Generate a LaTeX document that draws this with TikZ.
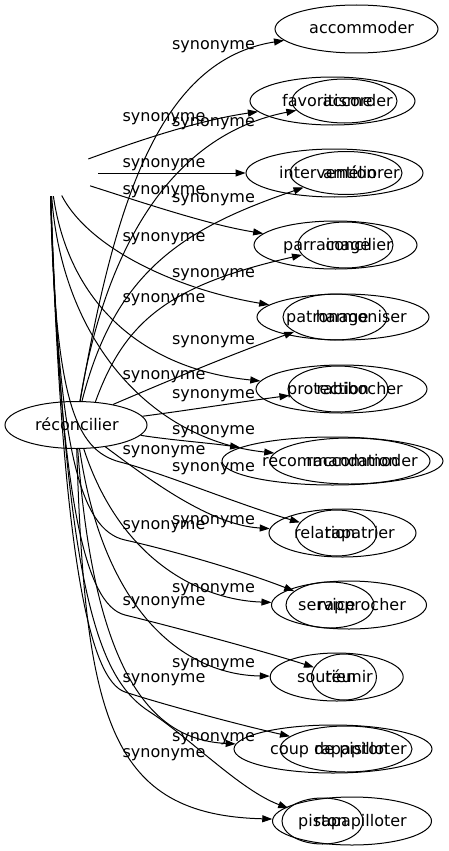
\documentclass[tikz,border=0pt]{standalone}
\usepackage{fontspec}
\setmainfont{DejaVu Sans}
\usetikzlibrary{shapes.geometric,arrows.meta}
\begin{document}
\begin{tikzpicture}[x=1pt,y=-1pt,
  ell/.style={draw, ellipse, line width=1pt, inner sep=0pt},
  hid/.style={ellipse, inner sep=0pt},
  word/.style={inner sep=0pt, font=\fontsize{16pt}{19pt}\selectfont},
  lbl/.style={word, anchor=base},
  edge/.style={line width=1pt, -{Triangle[length=10pt,width=7pt]}}]
\useasboundingbox (0,0) rectangle (448,851);
% sources
\node[ell, minimum width=142, minimum height=47] (rec) at (76,425) {};
\node[word, anchor=base west] (trec) at (35,430) {réconcilier};
\node[hid, minimum width=96, minimum height=46] (hub) at (50,173) {};
% targets
\node[ell, minimum width=163, minimum height=48] (r1) at (356.5,29) {};
\node[ell, minimum width=165, minimum height=48] (r2b) at (332.5,101) {};
\node[ell, minimum width=105, minimum height=44] (r2a) at (344.5,101) {};
\node[ell, minimum width=177, minimum height=48] (r3b) at (334.5,173) {};
\node[ell, minimum width=112, minimum height=43] (r3a) at (346,173) {};
\node[ell, minimum width=163, minimum height=48] (r4b) at (335.5,245) {};
\node[ell, minimum width=95, minimum height=46] (r4a) at (345.5,245) {};
\node[ell, minimum width=172, minimum height=46] (r5b) at (343,317) {};
\node[ell, minimum width=104, minimum height=46] (r5a) at (335,317) {};
\node[ell, minimum width=171, minimum height=48] (r6b) at (341.5,389) {};
\node[ell, minimum width=100, minimum height=46] (r6a) at (338,389) {};
\node[ell, minimum width=221, minimum height=48] (r7a) at (332.5,461) {};
\node[ell, minimum width=160, minimum height=46] (r7b) at (350,461) {};
\node[ell, minimum width=147, minimum height=48] (r8a) at (342.5,533) {};
\node[ell, minimum width=81, minimum height=46] (r8b) at (336.5,533) {};
\node[ell, minimum width=155, minimum height=48] (r9a) at (349,605) {};
\node[ell, minimum width=88, minimum height=46] (r9b) at (330,605) {};
\node[ell, minimum width=133, minimum height=48] (r10a) at (336.7,677) {};
\node[ell, minimum width=65, minimum height=46] (r10b) at (344,677) {};
\node[ell, minimum width=198, minimum height=48] (r11a) at (333,749) {};
\node[ell, minimum width=132, minimum height=46] (r11b) at (346,749) {};
\node[ell, minimum width=159, minimum height=48] (r12a) at (352,821) {};
\node[ell, minimum width=81, minimum height=46] (r12b) at (322.5,821) {};
% target texts
\node[word, anchor=base west] (t1) at (309,34) {accommoder};
\node[word, anchor=base west] (t2b) at (282,106) {favoritisme};
\node[word, anchor=base east] (t2a) at (393,106) {accorder};
\node[word, anchor=base west] (t3b) at (279,178) {intervention};
\node[word, anchor=base east] (t3a) at (400,178) {améliorer};
\node[word, anchor=base west] (t4b) at (283,250) {parrainage};
\node[word, anchor=base east] (t4a) at (393,250) {concilier};
\node[word, anchor=base west] (t5b) at (286,322) {patronage};
\node[word, anchor=base east] (t5a) at (407,322) {harmoniser};
\node[word, anchor=base west] (t6b) at (287,394) {protection};
\node[word, anchor=base east] (t6a) at (403,394) {rabibocher};
\node[word, anchor=base west] (t7b) at (262,466) {recommandation};
\node[word, anchor=base east] (t7a) at (418,466) {raccommoder};
\node[word, anchor=base west] (t8b) at (294,538) {relation};
\node[word, anchor=base east] (t8a) at (395,538) {rapatrier};
\node[word, anchor=base west] (t9b) at (298,610) {service};
\node[word, anchor=base east] (t9a) at (406,610) {rapprocher};
\node[word, anchor=base west] (t10b) at (297,682) {soutien};
\node[word, anchor=base east] (t10a) at (373,682) {réunir};
\node[word, anchor=base west] (t11b) at (270,754) {coup de piston};
\node[word, anchor=base east] (t11a) at (407,754) {rapapilloter};
\node[word, anchor=base west] (t12b) at (298,826) {piston};
\node[word, anchor=base east] (t12a) at (407,826) {rapapilloter};
% edge labels
\foreach \yy [count=\i] in {45,122,198,273,340,394,430,467,520,588,663,737}
  \node[lbl] (la\i) at (213.5,\yy+4.5) {synonyme};
\foreach \yy [count=\i] in {117,163,190,237,298,375,450,525,601,678,753}
  \node[lbl] (lb\i) at (164,\yy+4.5) {synonyme};
% edges from réconcilier
\draw[edge] (rec) .. controls (115,200) and (160,60) .. (r1);
\draw[edge] (rec) .. controls (105,250) and (170,135) .. (r2a);
\draw[edge] (rec) .. controls (115,270) and (185,228) .. (r3a);
\draw[edge] (rec.50) .. controls (125,320) and (170,285) .. (r4a);
\draw[edge] (rec.29) .. controls (170,380) and (230,355) .. (r5a);
\draw[edge] (rec) .. controls (190,410) and (240,402) .. (r6a);
\draw[edge] (rec) .. controls (170,440) and (210,443) .. (r7a);
\draw[edge] (rec) .. controls (150,480) and (210,525) .. (r8a);
\draw[edge] (rec) .. controls (120,560) and (200,600) .. (r9a);
\draw[edge] (rec) .. controls (105,620) and (190,675) .. (r10a);
\draw[edge] (rec) .. controls (95,690) and (160,740) .. (r11a);
\draw[edge] (rec) .. controls (85,720) and (110,815) .. (r12a);
% edges from the hidden hub
\draw[edge] (hub) .. controls (140,140) and (200,120) .. (r2b);
\draw[edge] (hub) -- (r3b);
\draw[edge] (hub) .. controls (150,205) and (210,225) .. (r4b);
\draw[edge] (hub) .. controls (90,250) and (180,290) .. (r5b);
\draw[edge] (hub) .. controls (70,310) and (150,370) .. (r6b);
\draw[edge] (hub) .. controls (62,340) and (150,440) .. (r7b);
\draw[edge] (hub) .. controls (55,400) and (75,450) .. (120,462) .. controls (160,472) and (240,505) .. (r8b);
\draw[edge] (hub) .. controls (58,450) and (80,530) .. (125,540) .. controls (170,550) and (240,570) .. (r9b);
\draw[edge] (hub) .. controls (60,500) and (85,605) .. (125,615) .. controls (170,626) and (260,650) .. (r10b);
\draw[edge] (hub) .. controls (62,560) and (90,680) .. (125,692) .. controls (165,705) and (240,725) .. (r11b);
\draw[edge] (hub) .. controls (65,600) and (100,680) .. (150,712) .. controls (190,738) and (240,790) .. (r12b);
\end{tikzpicture}
\end{document}
